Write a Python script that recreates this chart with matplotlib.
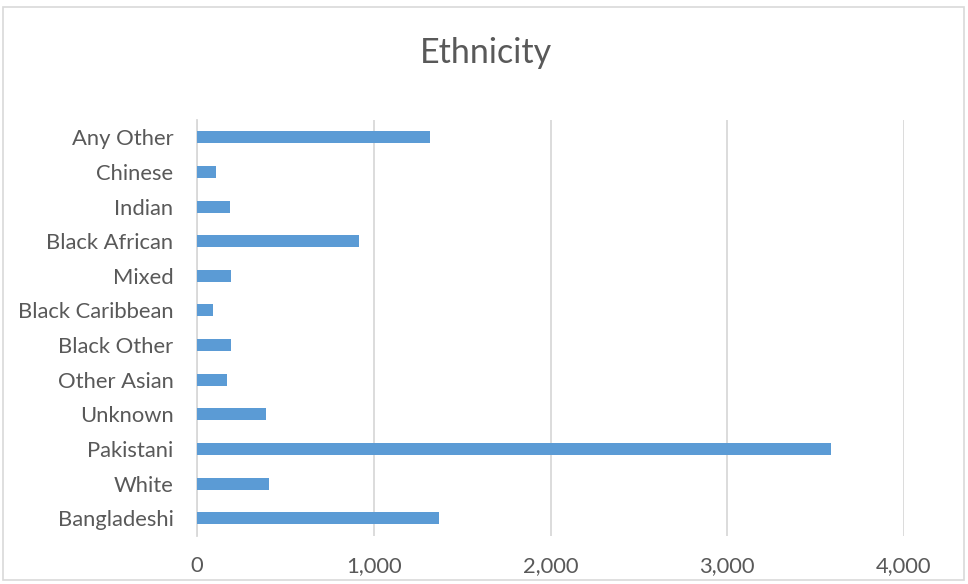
import numpy as np
import matplotlib.pyplot as plt
from matplotlib.patches import Rectangle
from matplotlib.ticker import FuncFormatter

# categories bottom to top
categories = ['Bangladeshi', 'White', 'Pakistani', 'Unknown', 'Other Asian',
              'Black Other', 'Black Caribbean', 'Mixed', 'Black African',
              'Indian', 'Chinese', 'Any Other']
counts = [1367, 409, 3588, 388, 169, 192, 88, 190, 917, 186, 105, 1321]
x_ticks = [0, 1000, 2000, 3000, 4000]

plt.rcParams['font.family'] = ['Lato', 'DejaVu Sans']

fig = plt.figure(figsize=(9.68, 5.84), dpi=100)
ax = fig.add_axes([197 / 968, 1 - 535.5 / 584, (904 - 197) / 968, (535.5 - 120) / 584])

y = np.arange(len(categories))
ax.barh(y, counts, height=0.35, color='#5B9BD5', zorder=3)

ax.set_xlim(0, 4000)
ax.set_ylim(-0.5, len(categories) - 0.5)
ax.set_xticks(x_ticks)
ax.xaxis.set_major_formatter(FuncFormatter(lambda v, p: f'{int(v):,}'))
ax.set_yticks(y)
ax.set_yticklabels(categories)
ax.tick_params(axis='both', length=0, labelsize=15.8, colors='#595959')
ax.tick_params(axis='x', pad=15)
ax.tick_params(axis='y', pad=17)

ax.grid(axis='x', color='#d9d9d9', linewidth=1.3, zorder=0)
for s in ['top', 'right', 'bottom']:
    ax.spines[s].set_visible(False)
ax.spines['left'].set_color('#d9d9d9')
ax.spines['left'].set_linewidth(1.3)

fig.text(486 / 968, 1 - 53 / 584, 'Ethnicity', ha='center', va='center',
         fontsize=24.5, color='#595959')

# outer chart border
fig.patches.append(Rectangle((3 / 968, 4 / 584), 961 / 968, 573 / 584,
                             transform=fig.transFigure, fill=False,
                             edgecolor='#d9d9d9', linewidth=1.2))

fig.savefig('out.png', dpi=100)
